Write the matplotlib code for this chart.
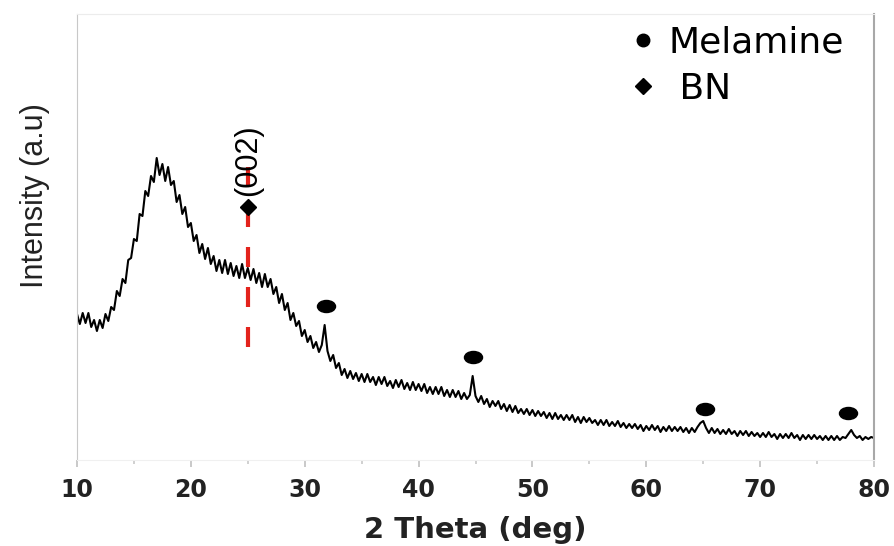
import numpy as np
import matplotlib
matplotlib.use("Agg")
import matplotlib.pyplot as plt
from matplotlib.lines import Line2D
from matplotlib.path import Path
from matplotlib.transforms import Affine2D

# XRD pattern, 2 theta from 10 to 80 deg in 0.25 deg steps (intensity in a.u.)
two_theta = np.arange(10, 80.001, 0.25)
intensity = [
    146, 136, 147, 137, 147, 133, 140, 129, 140, 132, 146, 139, 153, 150, 169, 164, 181, 177, 200, 202,
    221, 219, 246, 244, 269, 264, 284, 278, 302, 285, 296, 279, 293, 275, 279, 258, 265, 246, 253, 233,
    237, 219, 225, 207, 216, 201, 212, 196, 204, 189, 200, 187, 200, 186, 197, 184, 194, 182, 196, 182,
    192, 180, 191, 177, 187, 173, 186, 173, 181, 166, 173, 157, 166, 150, 157, 140, 147, 134, 139, 124,
    130, 118, 124, 112, 118, 108, 115, 135, 109, 99, 105, 92, 97, 85, 91, 82, 89, 81, 87, 79,
    86, 78, 86, 78, 83, 75, 83, 76, 83, 74, 79, 72, 80, 73, 80, 71, 77, 70, 78, 70,
    76, 69, 76, 67, 73, 66, 73, 66, 73, 64, 70, 63, 70, 63, 69, 61, 67, 61, 65, 84,
    64, 58, 64, 56, 61, 53, 59, 54, 59, 51, 56, 49, 55, 48, 54, 47, 51, 46, 51, 45,
    50, 44, 49, 44, 48, 42, 47, 41, 47, 41, 45, 40, 45, 40, 45, 38, 43, 37, 43, 38,
    42, 37, 40, 35, 40, 35, 40, 34, 38, 34, 39, 33, 37, 32, 36, 32, 36, 31, 35, 29,
    34, 30, 35, 30, 34, 28, 33, 29, 34, 29, 33, 29, 33, 28, 32, 27, 32, 28, 33, 37,
    39, 32, 27, 32, 27, 31, 26, 30, 26, 31, 26, 29, 24, 29, 25, 29, 24, 28, 24, 27,
    23, 27, 23, 28, 23, 26, 21, 26, 22, 26, 22, 27, 22, 25, 20, 25, 21, 25, 21, 25,
    21, 24, 20, 24, 20, 24, 20, 24, 20, 23, 22, 26, 30, 25, 22, 24, 20, 23, 21, 23,
    22,
]

# peak markers
melamine_x = [31.9, 44.8, 65.2, 77.7]
melamine_y = [154, 103, 51, 47]
bn_x = [25.0]
bn_y = [253]
bn_label = "(002)"
bn_label_y = 300
ref_line_x = 25.0
ref_line_y = [293, 107]

x_ticks = [10, 20, 30, 40, 50, 60, 70, 80]

plt.rcParams["font.family"] = ["DejaVu Sans"]
arial = ["Liberation Sans", "DejaVu Sans"]

fig = plt.figure(figsize=(8.94, 5.46), dpi=100)
ax = fig.add_axes([77 / 894, 1 - 460 / 546, 797 / 894, 446 / 546])

ax.plot(two_theta, intensity, color="black", lw=1.5, zorder=2)
ax.plot([ref_line_x, ref_line_x], ref_line_y, color="#e3231c", lw=3,
        dashes=(4.8, 4.8), zorder=3)

ellipse = Path.unit_circle().transformed(Affine2D().scale(1.5, 1.0))
ax.plot(melamine_x, melamine_y, ls="none", marker=ellipse, markersize=13,
        color="black", zorder=4)
ax.plot(bn_x, bn_y, ls="none", marker="D", markersize=8, color="black", zorder=4)
ax.text(bn_x[0], bn_label_y, bn_label, rotation=90, ha="center", va="center",
        fontsize=22, family=arial, zorder=5)

ax.set_xlim(10, 80)
ax.set_ylim(0, 446)
ax.set_xticks(x_ticks)
ax.set_xticks(range(15, 80, 10), minor=True)
ax.set_yticks([])
ax.tick_params(axis="x", which="major", direction="out", length=5, width=1.2,
               color="#c0c0c0", pad=8, labelsize=17, labelcolor="#222222")
ax.tick_params(axis="x", which="minor", direction="out", length=3, width=1.2,
               color="#c8c8c8")
for lbl in ax.get_xticklabels():
    lbl.set_fontweight("bold")

ax.spines["left"].set_color("#c8c8c8")
ax.spines["right"].set_color("#a8a8a8")
ax.spines["right"].set_linewidth(1.5)
ax.spines["top"].set_color("#ececec")
ax.spines["bottom"].set_color("#f0f0f0")

ax.set_xlabel("2 Theta (deg)", fontsize=21, fontweight="bold", color="#222222",
              labelpad=10)
ax.set_ylabel("Intensity (a.u)", fontsize=22, family=arial, color="#222222")
ax.yaxis.set_label_coords(-0.034, 0.594)

handles = [
    Line2D([], [], ls="none", marker="o", markersize=9, color="black"),
    Line2D([], [], ls="none", marker="D", markersize=8, color="black"),
]
ax.legend(handles, ["Melamine", " BN"], loc="upper left",
          bbox_to_anchor=(0.6876, 0.975), frameon=False, fontsize=26,
          borderpad=0, handlelength=1.0, handletextpad=0.2, labelspacing=0.35,
          borderaxespad=0)

fig.savefig("out.png", dpi=100)
